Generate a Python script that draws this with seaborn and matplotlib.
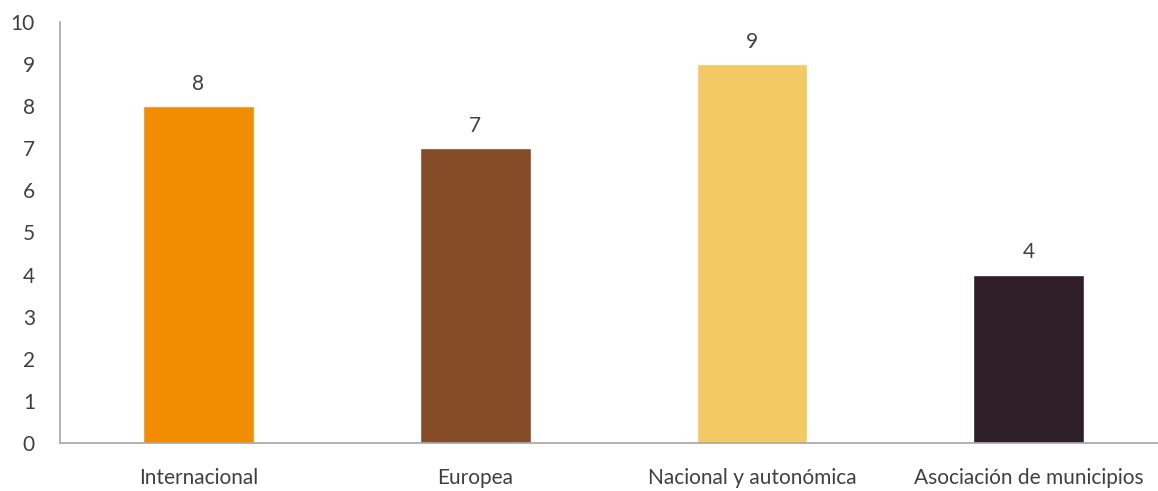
import pandas as pd
import seaborn as sns
import matplotlib.pyplot as plt

categories = ["Internacional", "Europea", "Nacional y autonómica", "Asociación de municipios"]
values = [8, 7, 9, 4]
colors = ["#F28C00", "#854C28", "#F2C963", "#2E1F26"]

sns.set_theme(style='white')
plt.rcParams['font.family'] = ['Lato', 'DejaVu Sans']

df = pd.DataFrame({'Categoria': categories, 'Valor': values})

fig = plt.figure(figsize=(11.58, 4.91), dpi=100)
ax = fig.add_axes([60 / 1158, 1 - 443 / 491, 1098 / 1158, 421 / 491])

sns.barplot(data=df, x='Categoria', y='Valor', hue='Categoria', palette=colors,
            width=0.4, legend=False, saturation=1, ax=ax)

# etiquetas de valor sobre las barras
for i, v in enumerate(values):
    ax.annotate(f"{v}", (i, v), xytext=(0, 9), textcoords='offset points',
                ha='center', va='bottom', fontsize=15, color='#404040')

ax.set_ylim(0, 10)
ax.set_yticks(range(0, 11))
ax.set_xlim(-0.5, 3.467)
ax.set_xlabel('')
ax.set_ylabel('')
ax.tick_params(axis='both', length=0, labelsize=15, colors='#404040')
ax.tick_params(axis='y', pad=18)
ax.tick_params(axis='x', pad=18)

for s in ['top', 'right']:
    ax.spines[s].set_visible(False)
for s in ['left', 'bottom']:
    ax.spines[s].set_color('#A6A6A6')
    ax.spines[s].set_linewidth(1.2)

plt.savefig('out.png', dpi=100)
